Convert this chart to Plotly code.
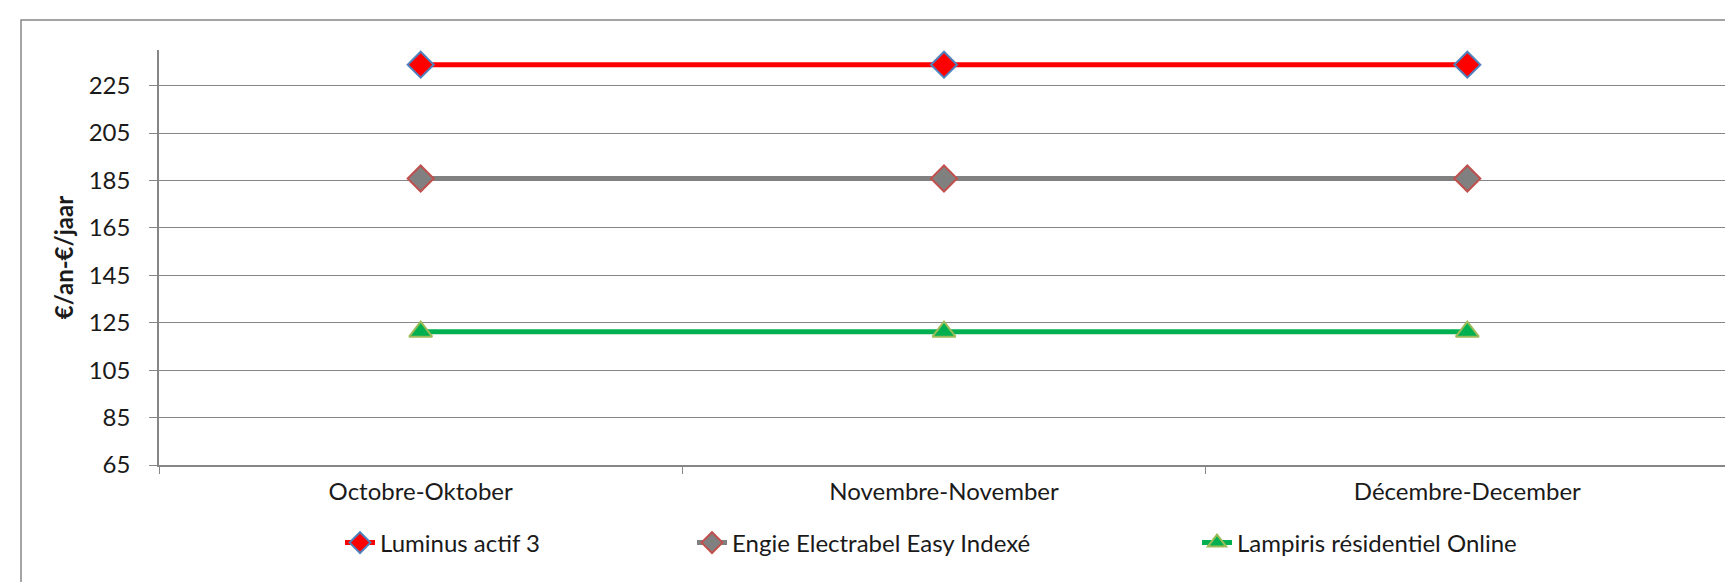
import plotly.graph_objects as go

months = ["Octobre-Oktober", "Novembre-November", "Décembre-December"]
luminus = [233.8, 233.8, 233.8]
engie = [185.8, 185.8, 185.8]
lampiris = [121.2, 121.2, 121.2]
y_ticks = [65, 85, 105, 125, 145, 165, 185, 205, 225]

FONT = "Lato"
TXT = "#1a1a1a"

W, H = 1733, 582
L, R, T, B = 151, 12, 42, 125
pw, ph = W - L - R, H - T - B

fig = go.Figure()
fig.add_trace(go.Scatter(
    x=months, y=luminus, name="Luminus actif 3", mode="lines+markers",
    line=dict(color="#FF0000", width=5), legend="legend",
    marker=dict(symbol="diamond", size=20, color="#FF0000",
                line=dict(color="#4F81BD", width=2)),
))
fig.add_trace(go.Scatter(
    x=months, y=engie, name="Engie Electrabel Easy Indexé", mode="lines+markers",
    line=dict(color="#808080", width=5), legend="legend2",
    marker=dict(symbol="diamond", size=20, color="#808080",
                line=dict(color="#C0504D", width=2)),
))
fig.add_trace(go.Scatter(
    x=months, y=lampiris, name="Lampiris résidentiel Online", mode="lines+markers",
    line=dict(color="#00B050", width=5), legend="legend3",
    marker=dict(symbol="triangle-up", size=20, color="#00B050",
                line=dict(color="#9BBB59", width=2)),
))

leg_y = (H - B - 535) / ph


def leg(px):
    return dict(orientation="h", x=(px - L) / pw, xanchor="left",
                y=leg_y, yanchor="middle",
                font=dict(family=FONT, size=24, color=TXT),
                bgcolor="rgba(0,0,0,0)", borderwidth=0)


fig.update_layout(
    width=W, height=H,
    margin=dict(l=L, r=R, t=T, b=B),
    paper_bgcolor="white", plot_bgcolor="white",
    font=dict(family=FONT, color=TXT, size=24),
    showlegend=True,
    legend=leg(332),
    legend2=leg(684),
    legend3=leg(1189),
    xaxis=dict(
        type="category", range=[-0.5, 2.5],
        showline=True, linecolor="#868686", linewidth=1.5,
        ticks="outside", tickson="boundaries", ticklen=7, tickcolor="#868686",
        showgrid=False, zeroline=False, ticklabelstandoff=4,
        tickfont=dict(family=FONT, size=24, color=TXT),
    ),
    yaxis=dict(
        range=[65, 240], tickvals=y_ticks,
        showline=True, linecolor="#868686", linewidth=1.5,
        ticks="outside", ticklen=8, tickcolor="#868686",
        showgrid=True, gridcolor="#868686", gridwidth=1.2,
        zeroline=False, ticklabelstandoff=14,
        tickfont=dict(family=FONT, size=24, color=TXT),
        title=dict(text="<b>€/an-€/jaar</b>", font=dict(family=FONT, size=24, color=TXT),
                   standoff=8),
    ),
    shapes=[dict(
        type="rect", xref="paper", yref="paper",
        x0=(13 - L) / pw, x1=1.2, y0=-0.6, y1=(H - B - 12) / ph,
        line=dict(color="#868686", width=1.5), fillcolor="rgba(0,0,0,0)", layer="below",
    )],
)

fig.write_html("out.html")
